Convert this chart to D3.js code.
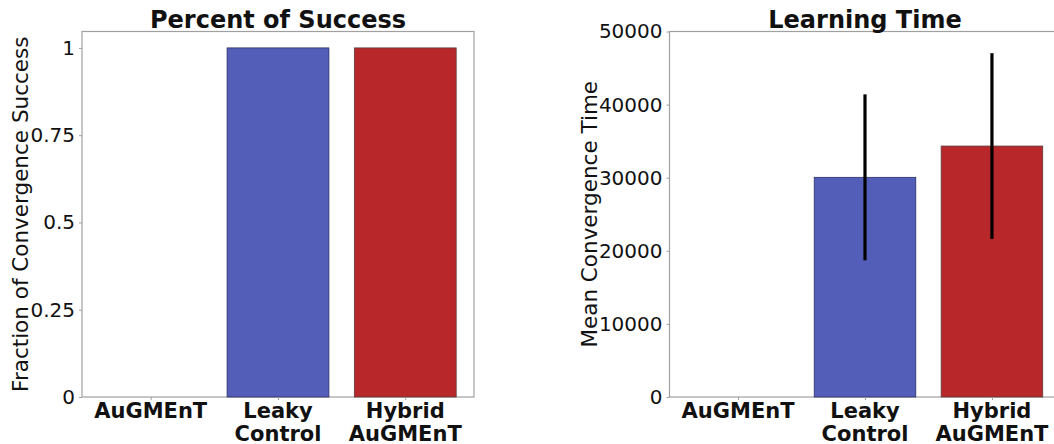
<!DOCTYPE html>
<html>
<head>
<meta charset="utf-8">
<script src="https://cdn.jsdelivr.net/npm/d3@7"></script>
<style>
  html, body { margin: 0; padding: 0; background: #fff; }
  svg { display: block; font-family: "DejaVu Sans", sans-serif; }
</style>
</head>
<body>
<svg id="chart" width="1054" height="444"></svg>
<script>
// Models compared in both panels
const models = ["AuGMEnT", "Leaky\nControl", "Hybrid\nAuGMEnT"];
const barColors = ["#ffffff", "#525eb8", "#b8282a"];

// Fraction of runs that converged
const successFraction = [0, 1, 1];
const successTicks = [0, 0.25, 0.5, 0.75, 1];
const successTickLabels = ["0", "0.25", "0.5", "0.75", "1"];

// Mean convergence time and its spread
const meanTime = [0, 30050, 34330];
const timeError = [0, 11350, 12700];
const timeTicks = [0, 10000, 20000, 30000, 40000, 50000];

const svg = d3.select("#chart");

function panel(opts) {
  const { left, right, top, bottom, yMax, values, errors, ticks, tickFormat, title, yLabel, yLabelX } = opts;
  const g = svg.append("g");

  // band positions: bars of width 0.8 with 5% data margins, as in a standard bar plot
  const x = d3.scaleLinear().domain([-0.54, models.length - 1 + 0.54]).range([left, right]);
  const y = d3.scaleLinear().domain([0, yMax]).range([bottom, top]);
  const halfW = 0.4;

  const rows = values.map((v, i) => ({ i, v, e: errors ? errors[i] : 0 }));

  // frame
  g.append("rect")
    .attr("x", left).attr("y", top)
    .attr("width", right - left).attr("height", bottom - top)
    .attr("fill", "none").attr("stroke", "#a0a0a0").attr("stroke-width", 1.2);

  // bars
  g.selectAll("rect.bar").data(rows.filter(r => r.v > 0)).join("rect")
    .attr("class", "bar")
    .attr("x", r => x(r.i - halfW))
    .attr("width", r => x(r.i + halfW) - x(r.i - halfW))
    .attr("y", r => y(r.v))
    .attr("height", r => bottom - y(r.v))
    .attr("fill", r => barColors[r.i])
    .attr("stroke", r => r.i === 2 ? "#5a3a3a" : "#2a2f66")
    .attr("stroke-width", 0.8);

  // error bars
  g.selectAll("line.err").data(rows.filter(r => r.e > 0)).join("line")
    .attr("class", "err")
    .attr("x1", r => x(r.i)).attr("x2", r => x(r.i))
    .attr("y1", r => y(r.v + r.e))
    .attr("y2", r => y(r.v - r.e))
    .attr("stroke", "#000").attr("stroke-width", 3.2);

  // y axis
  const yAxis = d3.axisLeft(y).tickValues(ticks).tickFormat(tickFormat).tickSize(3).tickPadding(4);
  const ya = g.append("g").attr("transform", `translate(${left},0)`).call(yAxis);
  ya.select(".domain").remove();
  ya.selectAll(".tick line").attr("stroke", "#a0a0a0");
  ya.selectAll(".tick text")
    .attr("fill", "#111").style("font-size", "20px")
    .style("font-family", "'DejaVu Sans', sans-serif");

  // x axis
  const xAxis = d3.axisBottom(x).tickValues(d3.range(models.length)).tickFormat("").tickSize(3);
  const xa = g.append("g").attr("transform", `translate(0,${bottom})`).call(xAxis);
  xa.select(".domain").remove();
  xa.selectAll(".tick line").attr("stroke", "#a0a0a0");

  models.forEach((m, i) => {
    const t = g.append("text")
      .attr("x", x(i)).attr("y", bottom + 20.5)
      .attr("text-anchor", "middle")
      .style("font-size", "21px").style("font-weight", "bold").attr("fill", "#111");
    m.split("\n").forEach((line, k) => {
      t.append("tspan").attr("x", x(i)).attr("dy", k === 0 ? 0 : 23).text(line);
    });
  });

  // title
  g.append("text")
    .attr("x", (left + right) / 2).attr("y", 27.5)
    .attr("text-anchor", "middle")
    .style("font-size", "24px").style("font-weight", "bold").attr("fill", "#111")
    .text(title);

  // y label
  g.append("text")
    .attr("transform", `translate(${yLabelX},${(top + bottom) / 2}) rotate(-90)`)
    .attr("text-anchor", "middle")
    .style("font-size", "21.5px").attr("fill", "#111")
    .text(yLabel);
}

panel({
  left: 82, right: 474, top: 31.5, bottom: 397, yMax: 1.047,
  values: successFraction, errors: null,
  ticks: successTicks, tickFormat: (d, i) => successTickLabels[i],
  title: "Percent of Success", yLabel: "Fraction of Convergence Success", yLabelX: 28
});

panel({
  left: 669.5, right: 1060.5, top: 31.5, bottom: 397, yMax: 50000,
  values: meanTime, errors: timeError,
  ticks: timeTicks, tickFormat: d3.format("d"),
  title: "Learning Time", yLabel: "Mean Convergence Time", yLabelX: 597
});
</script>
</body>
</html>
